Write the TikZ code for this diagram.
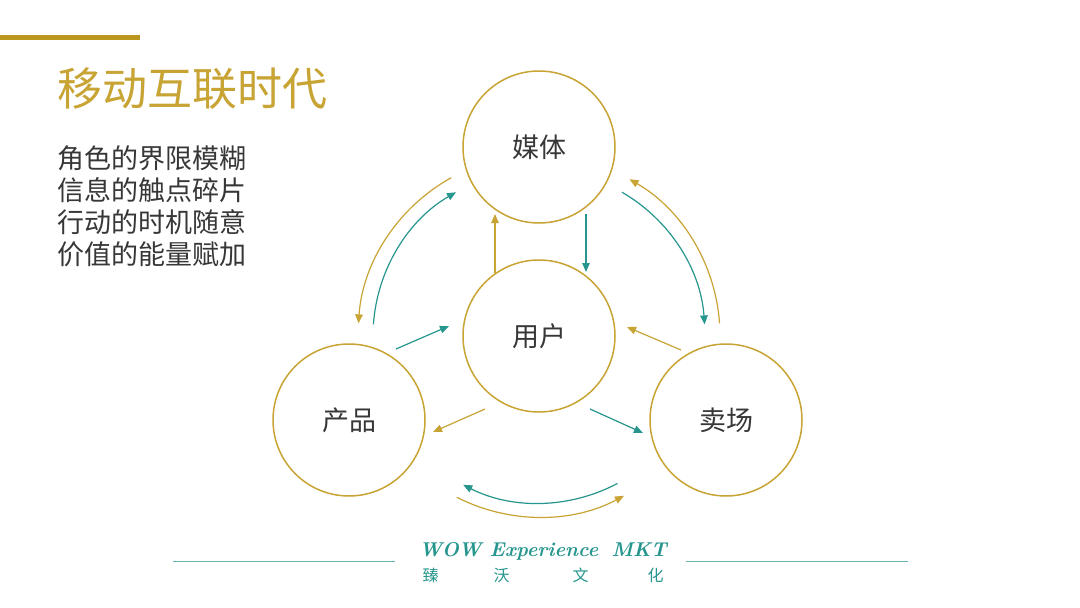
\documentclass[tikz,border=0pt]{standalone}
\usepackage{fontspec}
\newfontfamily\cjk{Noto Sans CJK SC}
\usetikzlibrary{arrows.meta}
\definecolor{gold}{RGB}{200,164,52}
\definecolor{bargold}{RGB}{186,150,30}
\definecolor{teal2}{RGB}{38,150,142}
\definecolor{txt}{RGB}{55,55,55}
\begin{document}
\begin{tikzpicture}[x=1pt,y=-1pt,
  ring/.style={circle,draw=gold,line width=1.5pt,minimum size=152pt,inner sep=0pt,
     font=\cjk\fontsize{27}{30}\selectfont,text=txt},
  garrow/.style={draw=gold,line width=1.2pt,-{Triangle[length=9pt,width=7.5pt]}},
  tarrow/.style={draw=teal2,line width=1.2pt,-{Triangle[length=9pt,width=7.5pt]}},
  rule/.style={draw=teal2!70,line width=0.9pt}]
\useasboundingbox[fill=white] (0,0) rectangle (1080,608);
% top bar
\coordinate (barL) at (0,37);
\coordinate (barR) at (140,37);
\draw[bargold,line width=5pt] (barL) -- (barR);
% title
\node[anchor=base west,inner sep=0pt,text=gold,font=\cjk\fontsize{45}{50}\selectfont] (title) at (57,105) {移动互联时代};
\node[anchor=base west,inner sep=0pt,text=txt,align=left,font=\cjk\fontsize{27}{32}\selectfont] (body) at (57,264)
 {角色的界限模糊\\信息的触点碎片\\行动的时机随意\\价值的能量赋加};
% circles
\node[ring] (media) at (539,147) {媒体};
\node[ring] (user) at (539,336) {用户};
\node[ring] (prod) at (349,420) {产品};
\node[ring] (shop) at (726,420) {卖场};
% arcs around user centre
\draw[garrow] (user.center) ++(119:181pt) arc[start angle=119,end angle=176,radius=181pt];
\draw[tarrow] (user.center) ++(176:166pt) arc[start angle=176,end angle=120,radius=166pt];
\draw[garrow] (user.center) ++(4:181pt) arc[start angle=4,end angle=60,radius=181pt];
\draw[tarrow] (user.center) ++(60:166pt) arc[start angle=60,end angle=4,radius=166pt];
\draw[tarrow] (user.center) ++(-62:167pt) arc[start angle=-62,end angle=-117,radius=167pt];
\draw[garrow] (user.center) ++(-117:181pt) arc[start angle=-117,end angle=-62,radius=181pt];
% straight arrows
\coordinate (a1s) at (495,273); \coordinate (a1e) at (495,214);
\coordinate (a2s) at (586,214); \coordinate (a2e) at (586,272);
\coordinate (a3s) at (396,349); \coordinate (a3e) at (449,326);
\coordinate (a4s) at (681,350); \coordinate (a4e) at (627,327);
\coordinate (a5s) at (485,409); \coordinate (a5e) at (433,432);
\coordinate (a6s) at (590,409); \coordinate (a6e) at (643,433);
\draw[garrow] (a1s) -- (a1e);
\draw[tarrow] (a2s) -- (a2e);
\draw[tarrow] (a3s) -- (a3e);
\draw[garrow] (a4s) -- (a4e);
\draw[garrow] (a5s) -- (a5e);
\draw[tarrow] (a6s) -- (a6e);
% logo
\coordinate (l1a) at (173,561); \coordinate (l1b) at (395,561);
\coordinate (l2a) at (686,561); \coordinate (l2b) at (908,561);
\draw[rule] (l1a) -- (l1b);
\draw[rule] (l2a) -- (l2b);
\node[inner sep=0pt,anchor=base,text=teal2,font=\bfseries\itshape\fontsize{20}{24}\selectfont] (wow) at (543,556) {WOW Experience\hspace{5pt} MKT};
\node[inner sep=0pt,text=teal2,font=\cjk\fontsize{16}{18}\selectfont] (zw) at (543,575) {臻\hspace{55pt}沃\hspace{63pt}文\hspace{59pt}化};
\end{tikzpicture}
\end{document}
